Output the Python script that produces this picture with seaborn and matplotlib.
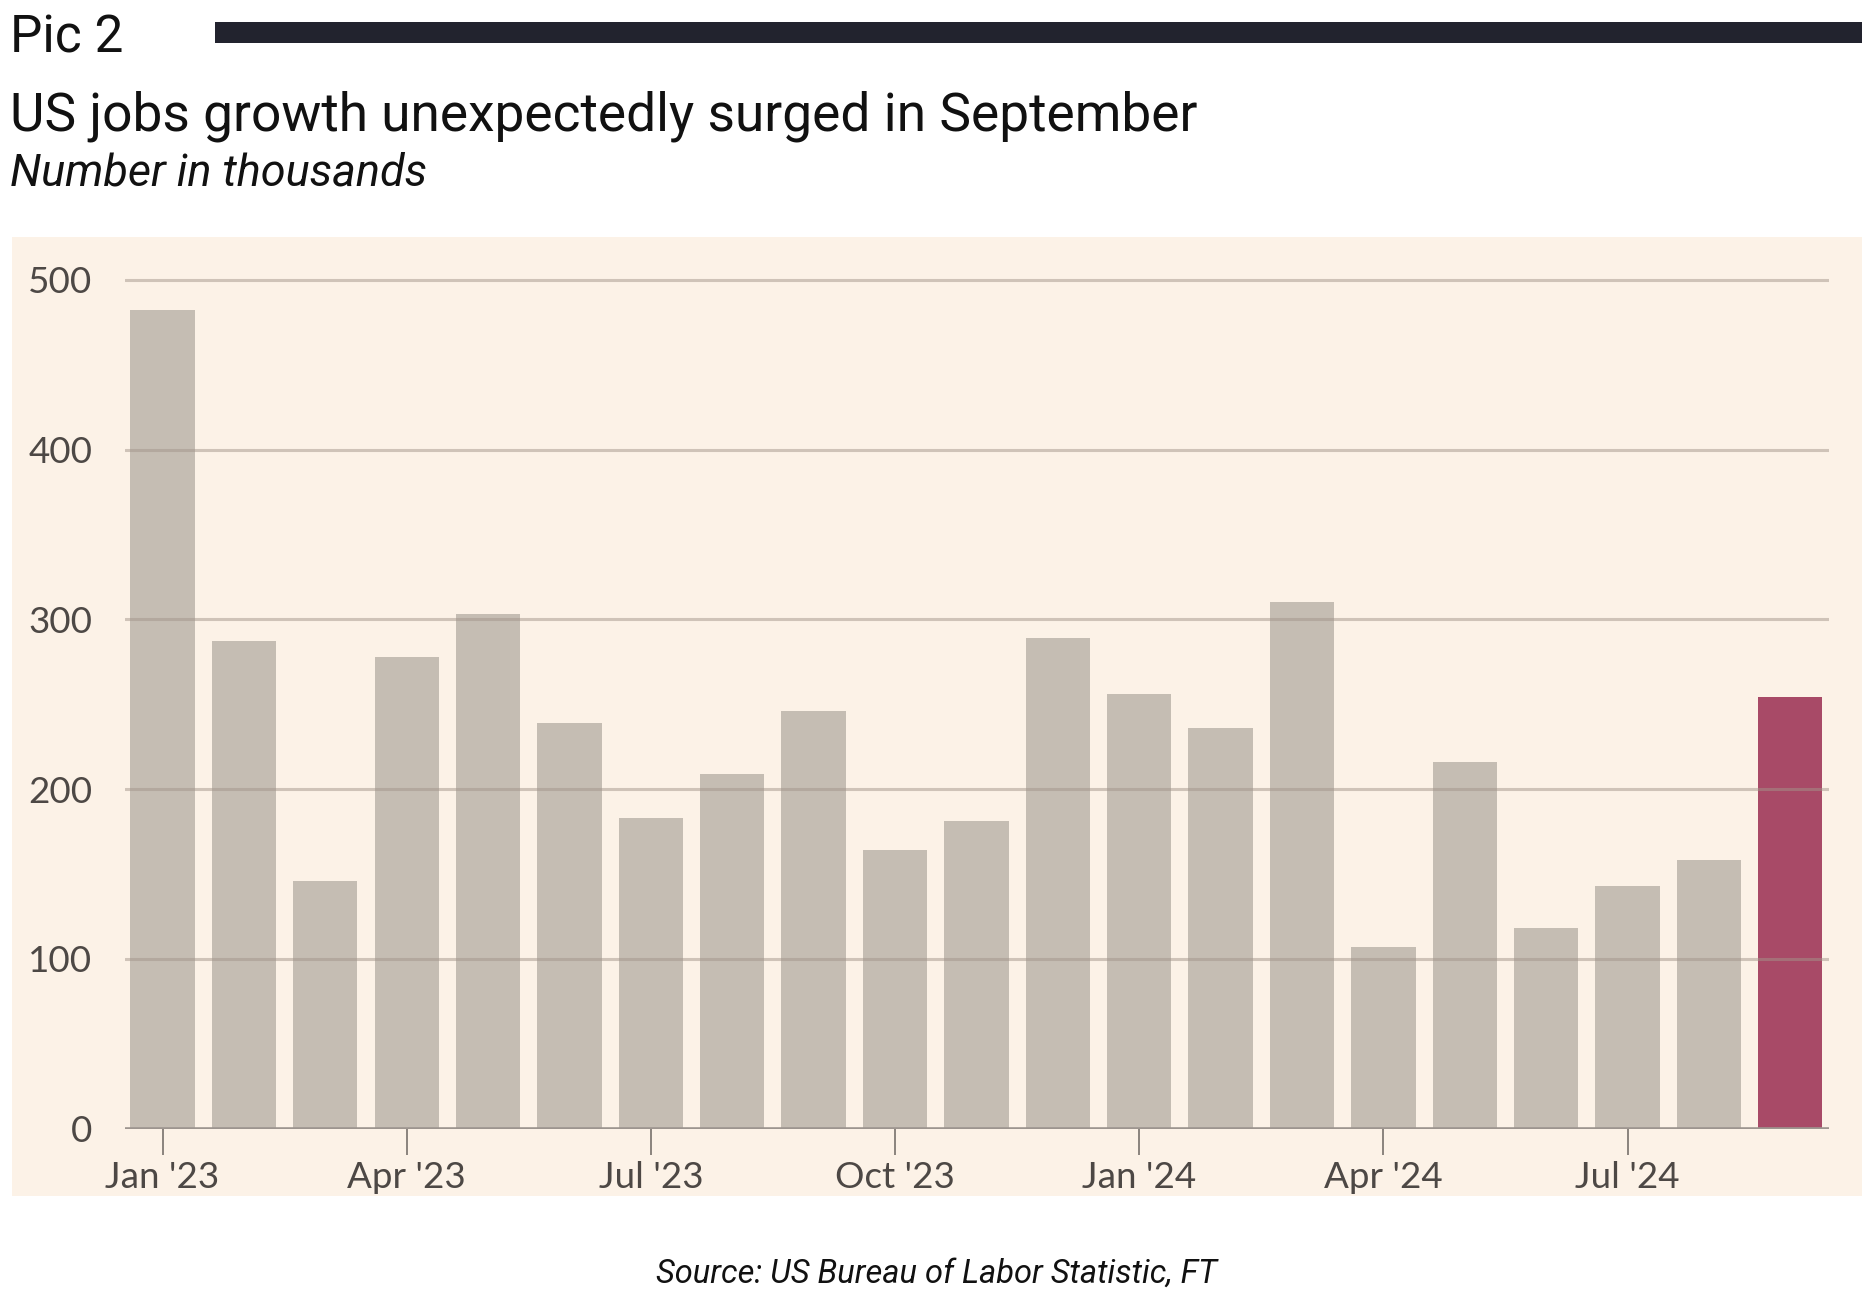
import matplotlib
matplotlib.use("Agg")
import matplotlib.pyplot as plt
import seaborn as sns
import pandas as pd
from matplotlib.patches import Rectangle

months = ["Jan '23", "Feb '23", "Mar '23", "Apr '23", "May '23", "Jun '23", "Jul '23",
          "Aug '23", "Sep '23", "Oct '23", "Nov '23", "Dec '23", "Jan '24", "Feb '24",
          "Mar '24", "Apr '24", "May '24", "Jun '24", "Jul '24", "Aug '24", "Sep '24"]
jobs = [482, 287, 146, 278, 303, 239, 183, 209, 246, 164, 181, 289,
        256, 236, 310, 107, 216, 118, 143, 158, 254]
highlight = ["no"] * 20 + ["yes"]
tick_labels = ["Jan '23", "Apr '23", "Jul '23", "Oct '23", "Jan '24", "Apr '24", "Jul '24"]
yticks = [0, 100, 200, 300, 400, 500]

df = pd.DataFrame({"month": months, "jobs": jobs, "hl": highlight})

sns.set_theme(style="white")
plt.rcParams["font.family"] = ["Roboto", "DejaVu Sans"]

W, H = 1568.0, 1084.0
fig = plt.figure(figsize=(18.74, 12.96), dpi=100)
fig.patch.set_facecolor("white")

# panel background
fig.patches.append(Rectangle((10 / W, 1 - 1000 / H), 1548 / W, 802 / H,
                             transform=fig.transFigure, facecolor="#FCF2E7",
                             edgecolor="none", zorder=0))
# top dark bar
fig.patches.append(Rectangle((180 / W, 1 - 36 / H), 1378 / W, 18 / H,
                             transform=fig.transFigure, facecolor="#22232E",
                             edgecolor="none", zorder=1))

ax_top = 1 - (944 - 510 * 1.42) / H
ax_bottom = 1 - 944 / H
ax = fig.add_axes([105 / W, ax_bottom, (1530 - 105) / W, ax_top - ax_bottom])
ax.set_zorder(5)
ax.set_facecolor("none")
ax.patch.set_alpha(0)

sns.barplot(data=df, x="month", y="jobs", hue="hl",
            palette={"no": "#C5BDB3", "yes": "#A84A67"}, saturation=1,
            dodge=False, width=0.79, linewidth=0, legend=False, ax=ax, zorder=2)

ax.set_xlim(-0.455, 20.47)
ax.set_ylim(0, 510)
for y in yticks[1:]:
    ax.axhline(y, color="#a3958a", alpha=0.5, lw=2.2, zorder=3)
ax.axhline(0, color="#9d958f", lw=2.6, zorder=4)

for s in ax.spines.values():
    s.set_visible(False)

ax.set_yticks(yticks)
ax.set_yticklabels([str(v) for v in yticks], family=["Lato", "DejaVu Sans"],
                   fontsize=26.5, color="#4D4845")
ax.tick_params(axis="y", left=False, length=0, pad=24)

ax.set_xticks([months.index(t) for t in tick_labels])
ax.set_xticklabels(tick_labels, family=["Lato", "DejaVu Sans"], fontsize=26.5,
                   color="#4D4845")
ax.tick_params(axis="x", bottom=True, length=19, width=1.4, color="#8a837e",
               pad=4, direction="out")
ax.set_xlabel("")
ax.set_ylabel("")

fig.text(8 / W, 1 - 44 / H, "Pic 2", fontsize=37, color="#111111",
         va="baseline", ha="left")
fig.text(8 / W, 1 - 109 / H, "US jobs growth unexpectedly surged in September",
         fontsize=38.3, color="#111111", va="baseline", ha="left")
fig.text(8 / W, 1 - 155 / H, "Number in thousands", fontsize=32.4, style="italic",
         color="#111111", va="baseline", ha="left")
fig.text(784 / W, 1 - 1073 / H, "Source: US Bureau of Labor Statistic, FT",
         fontsize=23.5, style="italic", color="#111111", va="baseline", ha="center")

fig.savefig("out.png", dpi=100, facecolor="white")
